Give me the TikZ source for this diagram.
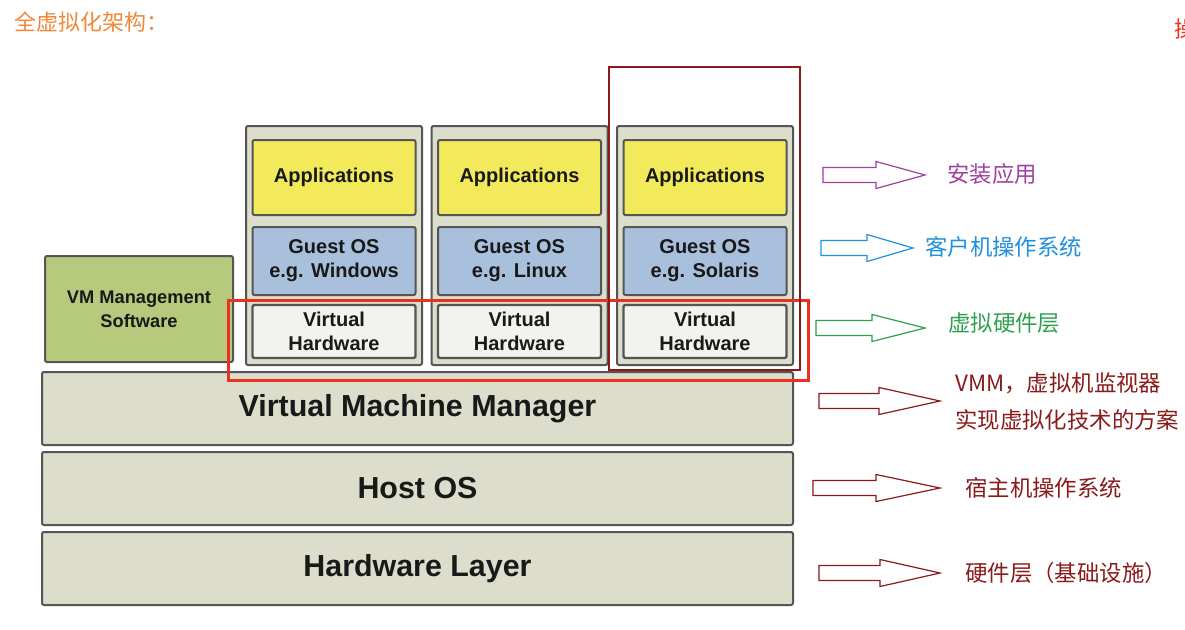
\documentclass[tikz,border=0pt]{standalone}
\usepackage{fontspec}
\setmainfont{Liberation Sans}
\newfontfamily\cjk{Noto Sans CJK SC}
\definecolor{boxline}{HTML}{555555}
\definecolor{panel}{HTML}{DCDDCB}
\definecolor{appyellow}{HTML}{F2EA5A}
\definecolor{osblue}{HTML}{A9C0DD}
\definecolor{mgmtgreen}{HTML}{B6C97C}
\definecolor{vhwhite}{HTML}{F2F2EE}
\definecolor{hired}{HTML}{E8311F}
\definecolor{darkred}{HTML}{8B1A1A}
\definecolor{titleorange}{HTML}{F08838}
\definecolor{notepurple}{HTML}{A040A0}
\definecolor{noteblue}{HTML}{2090E0}
\definecolor{notegreen}{HTML}{30A050}
\tikzset{
  layerbox/.style={draw=boxline, line width=1.5pt, rounded corners=1.5pt, inner sep=0pt, align=center, text=black!90},
  colbox/.style={layerbox, fill=panel, minimum width=176*0.75pt, minimum height=239*0.75pt},
  appbox/.style={layerbox, fill=appyellow, minimum width=163*0.75pt, minimum height=75*0.75pt, font=\fontsize{15}{18}\selectfont\bfseries},
  osbox/.style={layerbox, fill=osblue, minimum width=163*0.75pt, minimum height=68*0.75pt, font=\fontsize{15}{18}\selectfont\bfseries},
  vhbox/.style={layerbox, fill=vhwhite, line width=1.8pt, minimum width=163*0.75pt, minimum height=53*0.75pt, font=\fontsize{15}{18}\selectfont\bfseries},
  barbox/.style={layerbox, fill=panel, minimum width=751*0.75pt, minimum height=73*0.75pt, font=\fontsize{22.8}{26}\selectfont\bfseries},
  note/.style={anchor=west, inner sep=0pt, font=\fontsize{16.8}{20}\selectfont\cjk},
  blockarrow/.style={line width=0.9pt, line join=miter}
}
\begin{document}
\begin{tikzpicture}[x=0.75pt,y=-0.75pt]
\useasboundingbox (0,0) rectangle (1185,629);
\fill[white] (0,0) rectangle (1185,629);

% title
\node[note, text=titleorange, font=\fontsize{16.5}{20}\selectfont\cjk] (title) at (14,22) {全虚拟化架构：};
\node[note, text=hired] (cut) at (1174,29) {操};

% management software
\node[layerbox, fill=mgmtgreen, minimum width=188*0.75pt, minimum height=106*0.75pt, font=\fontsize{13.7}{18}\selectfont\bfseries] (mgmt) at (139,309) {VM Management\\Software};

% columns
\foreach \cx/\os [count=\i] in {334/Windows, 519.5/Linux, 705/Solaris} {
  \node[colbox] (col\i) at (\cx,245.5) {};
  \node[appbox] (app\i) at (\cx,177.5) {Applications};
  \node[osbox] (os\i) at (\cx,261) {Guest OS\\e.g. \os};
  \node[vhbox] (vh\i) at (\cx,331.5) {Virtual\\Hardware};
}

% layers
\node[barbox] (vmm) at (417.5,408.5) {Virtual Machine Manager};
\node[barbox] (host) at (417.5,488.5) {Host OS};
\node[barbox] (hw) at (417.5,568.5) {Hardware Layer};

% highlight frames
\draw[hired, line width=2.25pt] (228,300) rectangle (808,380);
\draw[darkred, line width=0.8pt] (609,67) rectangle (800,370);

% block arrows: x0/x1/tip/yc/colour
\foreach \xa/\xb/\xt/\yc/\col in {823/876/925/175/notepurple, 821/867/913/248/noteblue, 816/872/925/328/notegreen, 819/879/940/401/darkred, 813/876/940/488/darkred, 819/880/940/573/darkred} {
  \draw[blockarrow, draw=\col] (\xa,\yc-7.5) -- (\xb,\yc-7.5) -- (\xb,\yc-13.5) -- (\xt,\yc) -- (\xb,\yc+13.5) -- (\xb,\yc+7.5) -- (\xa,\yc+7.5) -- cycle;
}

% notes
\node[note, text=notepurple] (n1) at (947,174) {安装应用};
\node[note, text=noteblue] (n2) at (925,247) {客户机操作系统};
\node[note, text=notegreen] (n3) at (948,323) {虚拟硬件层};
\node[note, text=darkred] (n4) at (955,383) {VMM，虚拟机监视器};
\node[note, text=darkred] (n5) at (955,420) {实现虚拟化技术的方案};
\node[note, text=darkred] (n6) at (965,488) {宿主机操作系统};
\node[note, text=darkred] (n7) at (965,573) {硬件层（基础设施）};
\end{tikzpicture}
\end{document}
